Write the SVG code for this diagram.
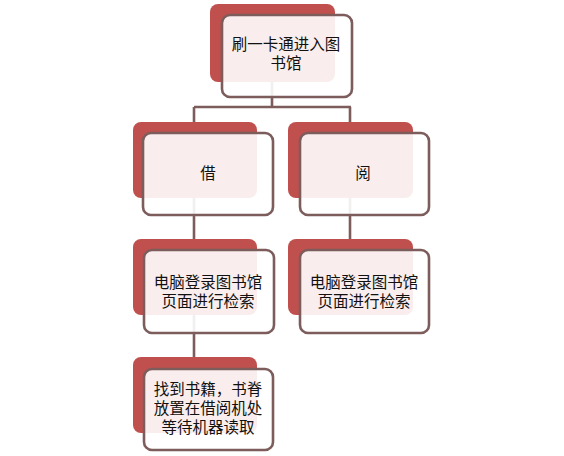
<svg xmlns="http://www.w3.org/2000/svg" width="564" height="456" viewBox="0 0 564 456">
<style>
.back{fill:#C0504D;}
.front{fill:#ffffff;fill-opacity:0.9;stroke:#7d5c5c;stroke-width:2.6;}
.lbl{font-family:"Liberation Sans","Noto Sans CJK SC",sans-serif;font-size:15.5px;fill:#111;text-anchor:middle;}
.conn{fill:none;stroke:#7d5c5c;stroke-width:2.6;}
</style>
<rect width="564" height="456" fill="#ffffff"/>
<g id="connectors">
<path class="conn" d="M272,60 V107 M194,107 H351 M194,107 V160 M350,107 V160"/>
<path class="conn" d="M194,180 V280 M350,180 V280"/>
<path class="conn" d="M194,300 V400"/>
</g>
<g id="node-entry">
<rect class="back" x="210" y="4" width="125" height="78" rx="8"/>
<rect class="front" x="222" y="15" width="130" height="82" rx="8"/>
<text class="lbl" x="286" y="50">刷一卡通进入图</text>
<text class="lbl" x="286" y="69">书馆</text>
</g>
<g id="node-borrow">
<rect class="back" x="133" y="122" width="124" height="76" rx="8"/>
<rect class="front" x="143" y="133" width="130" height="82" rx="8"/>
<text class="lbl" x="208" y="179">借</text>
</g>
<g id="node-read">
<rect class="back" x="288" y="122" width="125" height="76" rx="8"/>
<rect class="front" x="300" y="133" width="129" height="82" rx="8"/>
<text class="lbl" x="363" y="179">阅</text>
</g>
<g id="node-search-left">
<rect class="back" x="133" y="239" width="124" height="76" rx="8"/>
<rect class="front" x="144" y="250" width="130" height="83" rx="8"/>
<text class="lbl" x="208" y="288">电脑登录图书馆</text>
<text class="lbl" x="208" y="307">页面进行检索</text>
</g>
<g id="node-search-right">
<rect class="back" x="288" y="239" width="125" height="76" rx="8"/>
<rect class="front" x="300" y="250" width="129" height="83" rx="8"/>
<text class="lbl" x="364" y="288">电脑登录图书馆</text>
<text class="lbl" x="364" y="307">页面进行检索</text>
</g>
<g id="node-find">
<rect class="back" x="133" y="357" width="124" height="76" rx="8"/>
<rect class="front" x="144" y="369" width="129" height="81" rx="8"/>
<text class="lbl" x="208" y="395">找到书籍，书脊</text>
<text class="lbl" x="208" y="414">放置在借阅机处</text>
<text class="lbl" x="208" y="433">等待机器读取</text>
</g>
</svg>
